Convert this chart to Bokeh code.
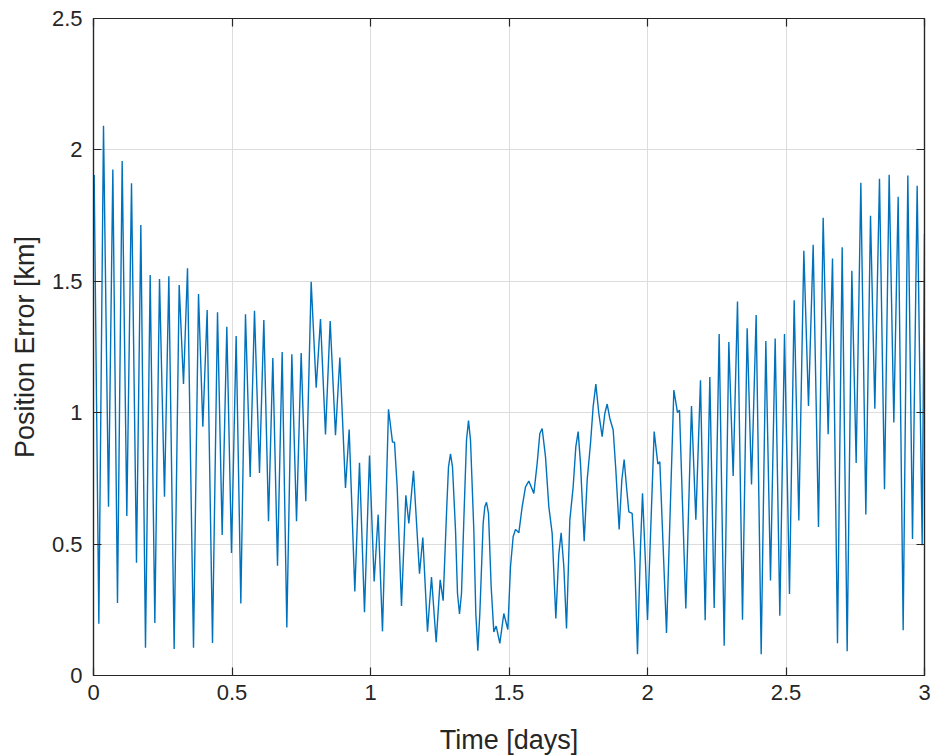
from bokeh.plotting import figure
from bokeh.models import LinearAxis, FixedTicker, Range1d
from bokeh.embed import file_html
from bokeh.resources import INLINE

# Time [days] / position error [km], in four stretches
days_a = [0.0, 0.0024, 0.0193, 0.0361, 0.0542, 0.0698, 0.0866, 0.1035, 0.1203, 0.1372,
          0.1552, 0.1709, 0.1877, 0.2046, 0.2214, 0.2383, 0.2563, 0.2720, 0.2912, 0.3093,
          0.3249, 0.3394, 0.3610, 0.3791, 0.3947, 0.4103, 0.4296, 0.4477, 0.4645, 0.4813,
          0.4982, 0.5150, 0.5319, 0.5487]
km_a = [1.77, 1.904, 0.197, 2.092, 0.642, 1.925, 0.276, 1.958, 0.607, 1.873,
        0.429, 1.714, 0.106, 1.524, 0.200, 1.509, 0.680, 1.519, 0.101, 1.486,
        1.109, 1.550, 0.106, 1.452, 0.947, 1.391, 0.124, 1.382, 0.535, 1.327,
        0.466, 1.292, 0.274, 1.375]

days_b = [0.5656, 0.5812, 0.5993, 0.6149, 0.6318, 0.6474, 0.6643, 0.6811, 0.6979, 0.7160,
          0.7329, 0.7497, 0.7665, 0.7858, 0.8039, 0.8195, 0.8375, 0.8544, 0.8736, 0.8893,
          0.9097, 0.9230, 0.9434, 0.9603, 0.9783, 0.9964, 1.0132, 1.0277, 1.0433, 1.0650,
          1.0794, 1.0866, 1.0962, 1.1119, 1.1276, 1.1384]
km_b = [0.755, 1.388, 0.771, 1.353, 0.587, 1.208, 0.418, 1.231, 0.183, 1.222,
        0.587, 1.227, 0.663, 1.498, 1.095, 1.356, 0.917, 1.349, 0.914, 1.210,
        0.714, 0.936, 0.320, 0.809, 0.241, 0.837, 0.358, 0.612, 0.168, 1.013,
        0.888, 0.888, 0.720, 0.265, 0.686, 0.579]

days_c = [1.1552, 1.1769, 1.1889, 1.2058, 1.2202, 1.2371, 1.2515, 1.2623, 1.2744, 1.2816,
          1.2888, 1.2960, 1.3069, 1.3141, 1.3213, 1.3285, 1.3369, 1.3466, 1.3538, 1.3610,
          1.3730, 1.3802, 1.3875, 1.3947, 1.4067, 1.4127, 1.4188, 1.4260, 1.4356, 1.4452,
          1.4537, 1.4669, 1.4813, 1.4958, 1.5054, 1.5150, 1.5235, 1.5355, 1.5475, 1.5596,
          1.5716, 1.5897, 1.6017, 1.6113, 1.6197, 1.6318, 1.6438, 1.6558, 1.6691, 1.6799,
          1.6883, 1.6980, 1.7076, 1.7196, 1.7316, 1.7413, 1.7497, 1.7581, 1.7714, 1.7822,
          1.7942, 1.8038, 1.8135, 1.8243, 1.8363, 1.8459, 1.8544, 1.8640, 1.8761, 1.8857,
          1.8977, 1.9073, 1.9157, 1.9242, 1.9326, 1.9446, 1.9543, 1.9639, 1.9747, 1.9820,
          1.9928, 2.0000]
km_c = [0.779, 0.387, 0.525, 0.167, 0.375, 0.127, 0.364, 0.285, 0.617, 0.794,
        0.843, 0.794, 0.553, 0.312, 0.234, 0.312, 0.591, 0.896, 0.970, 0.896,
        0.553, 0.236, 0.094, 0.236, 0.579, 0.642, 0.659, 0.617, 0.338, 0.166,
        0.188, 0.122, 0.236, 0.175, 0.414, 0.528, 0.556, 0.543, 0.642, 0.718,
        0.740, 0.693, 0.807, 0.921, 0.940, 0.832, 0.642, 0.541, 0.217, 0.464,
        0.543, 0.414, 0.179, 0.591, 0.718, 0.871, 0.928, 0.807, 0.511, 0.744,
        0.883, 1.023, 1.109, 0.997, 0.909, 0.997, 1.033, 0.978, 0.934, 0.782,
        0.556, 0.744, 0.822, 0.718, 0.623, 0.617, 0.426, 0.081, 0.490, 0.693,
        0.426, 0.211]

days_d = [2.0241, 2.0373, 2.0445, 2.0686, 2.0951, 2.1083, 2.1155, 2.1384, 2.1588, 2.1745,
          2.1913, 2.2082, 2.2250, 2.2407, 2.2587, 2.2768, 2.2936, 2.3093, 2.3249, 2.3430,
          2.3598, 2.3755, 2.3923, 2.4104, 2.4272, 2.4440, 2.4609, 2.4777, 2.4946, 2.5126,
          2.5295, 2.5463, 2.5644, 2.5812, 2.5981, 2.6173, 2.6342, 2.6522, 2.6679, 2.6859,
          2.7028, 2.7208, 2.7377, 2.7533, 2.7702, 2.7882, 2.8051, 2.8207, 2.8375, 2.8556,
          2.8724, 2.8893, 2.9049, 2.9230, 2.9398, 2.9567, 2.9735, 2.9916, 3.0000]
km_d = [0.928, 0.805, 0.813, 0.162, 1.086, 1.000, 1.010, 0.255, 1.025, 0.593,
        1.123, 0.210, 1.136, 0.257, 1.299, 0.113, 1.269, 0.759, 1.423, 0.212,
        1.321, 0.727, 1.372, 0.081, 1.273, 0.362, 1.282, 0.227, 1.299, 0.310,
        1.428, 0.590, 1.616, 1.026, 1.639, 0.565, 1.742, 0.918, 1.587, 0.123,
        1.630, 0.092, 1.540, 0.809, 1.875, 0.613, 1.749, 1.015, 1.890, 0.709,
        1.905, 0.963, 1.822, 0.172, 1.903, 0.519, 1.864, 0.496, 1.680]

x_ticks = [0, 0.5, 1, 1.5, 2, 2.5, 3]
x_tick_labels = ["0", "0.5", "1", "1.5", "2", "2.5", "3"]
y_ticks = [0, 0.5, 1, 1.5, 2, 2.5]
y_tick_labels = ["0", "0.5", "1", "1.5", "2", "2.5"]

for d, k in ((days_a, km_a), (days_b, km_b), (days_c, km_c), (days_d, km_d)):
    assert len(d) == len(k), (len(d), len(k))

days = days_a + days_b + days_c + days_d
error_km = km_a + km_b + km_c + km_d

FONT = "Liberation Sans"
DARK = "#262626"

p = figure(frame_width=831, frame_height=657,
           x_range=Range1d(0, 3), y_range=Range1d(0, 2.5),
           output_backend="svg", toolbar_location=None,
           min_border_left=93, min_border_right=7, min_border_top=18, min_border_bottom=81,
           background_fill_color="white", border_fill_color="white")

p.line(days, error_km, line_color="#0072BD", line_width=1.4)

p.outline_line_color = DARK
p.outline_line_width = 1.2
p.outline_line_alpha = 1.0

p.xgrid.ticker = FixedTicker(ticks=x_ticks)
p.ygrid.ticker = FixedTicker(ticks=y_ticks)
for g in (p.xgrid[0], p.ygrid[0]):
    g.grid_line_color = "#dcdcdc"
    g.grid_line_width = 1


def style_axis(ax, ticks, labels, show_labels=True):
    ax.ticker = FixedTicker(ticks=ticks)
    if show_labels:
        ax.major_label_overrides = {t: l for t, l in zip(ticks, labels)}
    else:
        ax.major_label_overrides = {t: "" for t in ticks}
    ax.major_tick_in = 8
    ax.major_tick_out = 0
    ax.minor_tick_line_color = None
    ax.major_tick_line_color = DARK
    ax.major_tick_line_width = 1.2
    ax.axis_line_color = DARK
    ax.axis_line_width = 1.2
    ax.major_label_text_font = FONT
    ax.major_label_text_font_size = "22px"
    ax.major_label_text_color = DARK
    ax.axis_label_text_font = FONT
    ax.axis_label_text_font_size = "27px"
    ax.axis_label_text_font_style = "normal"
    ax.axis_label_text_color = DARK


xa = p.xaxis[0]
style_axis(xa, x_ticks, x_tick_labels)
xa.axis_label = "Time [days]"
xa.major_label_standoff = 9
xa.axis_label_standoff = 22

ya = p.yaxis[0]
style_axis(ya, y_ticks, y_tick_labels)
ya.axis_label = "Position Error [km]"
ya.major_label_standoff = 11
ya.axis_label_standoff = 9

top_ax = LinearAxis()
style_axis(top_ax, x_ticks, x_tick_labels, show_labels=False)
top_ax.major_label_standoff = 0
p.add_layout(top_ax, "above")

right_ax = LinearAxis()
style_axis(right_ax, y_ticks, y_tick_labels, show_labels=False)
right_ax.major_label_standoff = 0
p.add_layout(right_ax, "right")

open("out.html", "w").write(file_html(p, INLINE))
